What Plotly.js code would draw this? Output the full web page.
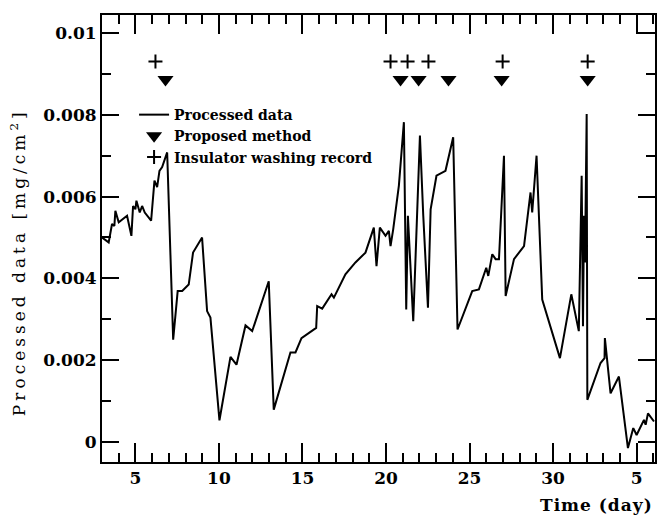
<!DOCTYPE html>
<html>
<head>
<meta charset="utf-8">
<script src="https://cdn.plot.ly/plotly-3.0.1.min.js"></script>
<style>html,body{margin:0;padding:0;background:#fff;}#chart{width:658px;height:516px;}</style>
</head>
<body>
<div id="chart"></div>
<script>
// Processed data (time in days, value in mg/cm2)
const days = [3.0,3.4,3.6,3.74,3.8,4.0,4.5,4.76,4.86,5.0,5.06,5.26,5.4,5.56,5.94,6.14,6.3,6.44,6.6,6.9,
  7.26,7.53,7.8,8.19,8.45,8.99,9.29,9.49,10.03,10.69,11.05,11.59,11.99,12.98,13.28,14.28,14.58,14.94,15.82,15.88,
  16.18,16.74,16.88,17.57,18.17,18.77,19.27,19.43,19.63,19.97,20.17,20.27,20.43,20.77,21.07,21.21,21.31,21.43,21.63,22.03,
  22.23,22.51,22.67,23.02,23.56,24.02,24.28,25.16,25.56,26.0,26.12,26.36,26.56,26.76,27.06,27.16,27.66,28.26,28.65,28.75,
  29.01,29.35,29.85,30.41,31.09,31.54,31.71,31.79,31.85,31.91,32.01,32.05,32.84,33.08,33.1,33.44,33.94,34.24,34.48,34.8,
  35.0,35.44,35.54,35.68,36.04];
const values = [0.00500,0.00488,0.00533,0.00528,0.00565,0.00537,0.00553,0.00504,0.00577,0.00569,0.00590,0.00561,0.00577,0.00561,0.00541,0.00639,0.00623,0.00663,0.00672,0.00708,
  0.00250,0.00369,0.00369,0.00385,0.00463,0.00500,0.00320,0.00304,0.00053,0.00208,0.00189,0.00285,0.00271,0.00393,0.00079,0.00219,0.00219,0.00254,0.00279,0.00332,
  0.00326,0.00361,0.00353,0.00410,0.00439,0.00463,0.00524,0.00430,0.00524,0.00504,0.00516,0.00479,0.00520,0.00627,0.00782,0.00324,0.00553,0.00455,0.00295,0.00749,
  0.00553,0.00328,0.00569,0.00651,0.00663,0.00745,0.00275,0.00369,0.00373,0.00426,0.00406,0.00459,0.00447,0.00447,0.00700,0.00357,0.00447,0.00479,0.00610,0.00561,
  0.00700,0.00348,0.00283,0.00205,0.00361,0.00271,0.00651,0.00283,0.00553,0.00439,0.00802,0.00103,0.00193,0.00205,0.00254,0.00119,0.00160,0.00054,-0.00015,0.00034,
  0.00017,0.00054,0.00042,0.00070,0.00050];

// Insulator washing record
const washDays = [6.2,20.27,21.29,22.54,26.98,32.07];
const washLevel = [0.0093,0.0093,0.0093,0.0093,0.0093,0.0093];
// Proposed method
const propDays = [6.8,20.87,21.95,23.74,26.92,32.07];
const propLevel = [0.00886,0.00886,0.00886,0.00886,0.00886,0.00886];

const xTickVals = [5,10,15,20,25,30,35];
const xTickText = ['5','10','15','20','25','30','5'];
const yTickVals = [0,0.002,0.004,0.006,0.008,0.01];
const yTickText = ['0','0.002','0.004','0.006','0.008','0.01'];

const serif = 'DejaVu Serif, Liberation Serif, serif';

const traces = [
  {x: days, y: values, type: 'scatter', mode: 'lines', name: 'Processed data',
   line: {color: '#000', width: 2}},
  {x: propDays, y: propLevel, type: 'scatter', mode: 'markers', name: 'Proposed method',
   marker: {symbol: 'triangle-down', size: 14, color: '#000'}},
  {x: washDays, y: washLevel, type: 'scatter', mode: 'markers', name: 'Insulator washing record',
   marker: {symbol: 'cross-thin', size: 10, color: '#000', line: {color: '#000', width: 2}}}
];

const layout = {
  width: 658, height: 516,
  margin: {l: 102, r: 3, t: 15, b: 54},
  paper_bgcolor: '#fff', plot_bgcolor: '#fff',
  showlegend: true,
  legend: {x: 0.058, y: 0.812, xanchor: 'left', yanchor: 'top', bgcolor: 'rgba(0,0,0,0)',
    font: {family: serif, size: 14, color: '#000', weight: 'bold'}, tracegroupgap: 0},
  xaxis: {range: [3.0, 36.1], showgrid: false, zeroline: false,
    showline: true, linecolor: '#000', linewidth: 2, mirror: 'ticks',
    ticks: 'inside', ticklen: 19, tickwidth: 2, tickcolor: '#000',
    tickmode: 'array', tickvals: xTickVals, ticktext: xTickText,
    tickfont: {family: serif, size: 17, color: '#000', weight: 'bold'},
    minor: {tickmode: 'linear', tick0: 0, dtick: 1, ticks: 'inside', ticklen: 9, tickwidth: 2, tickcolor: '#000', showgrid: false}},
  yaxis: {range: [-0.00049, 0.01044], showgrid: false, zeroline: false,
    showline: true, linecolor: '#000', linewidth: 2, mirror: 'ticks',
    ticks: 'inside', ticklen: 17, tickwidth: 2, tickcolor: '#000',
    tickmode: 'array', tickvals: yTickVals, ticktext: yTickText,
    tickfont: {family: serif, size: 17, color: '#000', weight: 'bold'},
    minor: {tickmode: 'linear', tick0: 0, dtick: 0.001, ticks: 'inside', ticklen: 9, tickwidth: 2, tickcolor: '#000', showgrid: false}},
  annotations: [
    {text: '<span style="letter-spacing:4px">Processed data [mg/cm<sup>2</sup>]</span>', xref: 'paper', yref: 'paper', x: -0.152, y: 0.447,
     xanchor: 'center', yanchor: 'middle', textangle: -90, showarrow: false,
     font: {family: serif, size: 17, color: '#000'}},
    {text: '<span style="letter-spacing:1px">Time (day)</span>', xref: 'paper', yref: 'paper', x: 1.0, y: -0.096,
     xanchor: 'right', yanchor: 'middle', showarrow: false,
     font: {family: serif, size: 17, color: '#000', weight: 'bold'}}
  ]
};

Plotly.newPlot('chart', traces, layout, {displayModeBar: false, staticPlot: true});
</script>
</body>
</html>
